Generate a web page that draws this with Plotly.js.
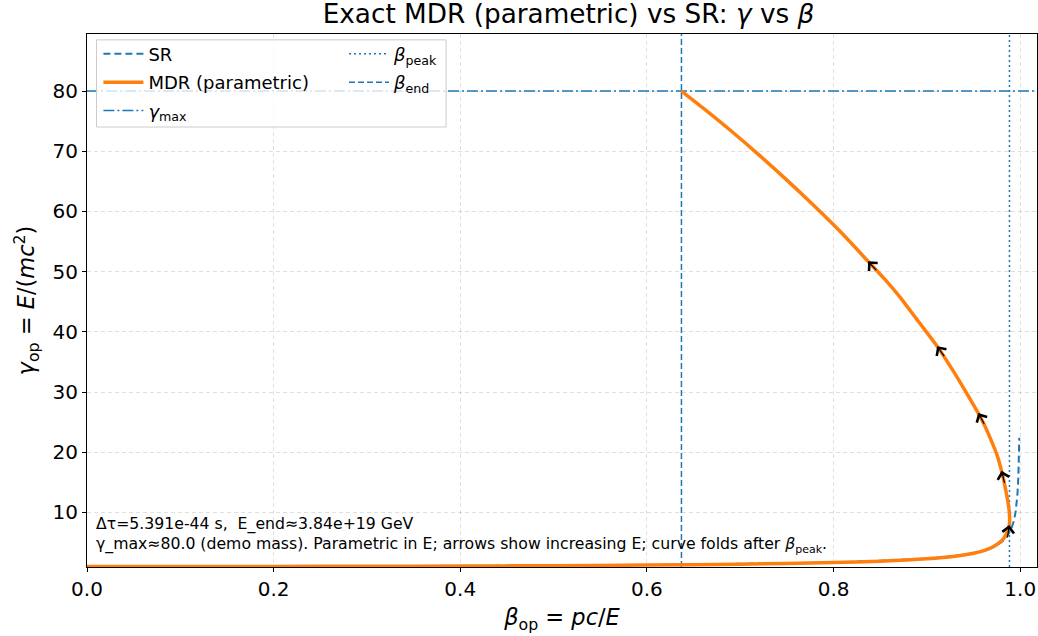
<!DOCTYPE html>
<html><head><meta charset="utf-8">
<script src="https://cdn.plot.ly/plotly-3.0.1.min.js"></script>
<style>html,body{margin:0;padding:0;background:#fff}</style>
</head><body><div id="chart" style="width:1038px;height:636px"></div>
<script>
// ---- data ----
const mdrBeta  = [0, 0.1, 0.2, 0.3, 0.4, 0.5, 0.6, 0.7, 0.8, 0.85, 0.9, 0.93, 0.95, 0.962, 0.971, 0.977, 0.982, 0.985, 0.987, 0.9883, 0.9887, 0.9882, 0.987, 0.984, 0.980, 0.975, 0.968, 0.962, 0.955, 0.943, 0.929, 0.911, 0.891, 0.872, 0.855, 0.837, 0.81, 0.78, 0.75, 0.72, 0.69, 0.66, 0.637];
const mdrGamma = [1, 1.005, 1.02, 1.05, 1.09, 1.15, 1.25, 1.4, 1.66, 1.89, 2.28, 2.7, 3.2, 3.7, 4.3, 4.9, 5.6, 6.4, 7.2, 7.9, 9.0, 10.2, 11.6, 14.1, 16.9, 19.6, 22.3, 24.4, 26.5, 29.7, 33.3, 37.6, 41.7, 45.6, 48.7, 51.7, 56.2, 60.8, 65.2, 69.4, 73.4, 77.2, 80];
const srBeta   = [0, 0.2, 0.4, 0.6, 0.7, 0.8, 0.9, 0.94, 0.96, 0.97, 0.98, 0.985, 0.99, 0.993, 0.995, 0.997, 0.998, 0.999];
const srGamma  = [1, 1.02, 1.09, 1.25, 1.4, 1.67, 2.29, 2.93, 3.57, 4.11, 5.03, 5.8, 7.09, 8.47, 10.0, 12.9, 15.8, 22.4];
const betaEnd = 0.637, betaPeak = 0.9885, gammaMax = 80;
const arrowIdx = [19, 24, 28, 31, 35];   // points on the MDR curve where the E-direction arrows sit
const xTickVals = [0, 0.2, 0.4, 0.6, 0.8, 1.0];
const xTickText = ["0.0", "0.2", "0.4", "0.6", "0.8", "1.0"];
const yTickVals = [10, 20, 30, 40, 50, 60, 70, 80];
const yTickText = ["10", "20", "30", "40", "50", "60", "70", "80"];
const titleText = "Exact MDR (parametric) vs SR: <i>γ</i> vs <i>β</i>";
const noteText = "Δτ=5.391e-44 s,&nbsp; E_end≈3.84e+19 GeV<br>γ_max≈80.0 (demo mass). Parametric in E; arrows show increasing E; curve folds after <i>β</i><sub>peak</sub>.";

// ---- layout constants ----
const W = 1038, H = 636;
const M = {l: 87, r: 1, t: 34, b: 69};
const xRange = [0, 1.018], yRange = [0.93, 89.47];
const pw = W - M.l - M.r, ph = H - M.t - M.b;
const pxX = pw / (xRange[1] - xRange[0]), pxY = ph / (yRange[1] - yRange[0]);
const C0 = '#1f77b4', C1 = '#ff7f0e';
const FONT = 'DejaVu Sans, sans-serif';

const traces = [
  {x: srBeta, y: srGamma, mode: 'lines', name: 'SR', line: {color: C0, width: 2, dash: '7px,4px'}, legend: 'legend', legendrank: 1, legendgroup: 'a'},
  {x: mdrBeta, y: mdrGamma, mode: 'lines', name: 'MDR (parametric)', line: {color: C1, width: 3.5, shape: 'spline', smoothing: 0.6}, legend: 'legend', legendrank: 2, legendgroup: 'b'},
  {x: xRange, y: [gammaMax, gammaMax], mode: 'lines', name: '<i>γ</i><sub>max</sub>', line: {color: C0, width: 1.5, dash: '11px,3px,2px,3px'}, legend: 'legend', legendrank: 3, legendgroup: 'c'},
  {x: [betaPeak, betaPeak], y: yRange, mode: 'lines', name: '<i>β</i><sub>peak</sub>', line: {color: C0, width: 1.5, dash: '2px,3px'}, legend: 'legend2', legendrank: 1, legendgroup: 'd'},
  {x: [betaEnd, betaEnd], y: yRange, mode: 'lines', name: '<i>β</i><sub>end</sub>', line: {color: C0, width: 1.5, dash: '6px,3px'}, legend: 'legend2', legendrank: 2, legendgroup: 'e'}
];
const drawOrder = [traces[2], traces[3], traces[4], traces[0], traces[1]];
drawOrder.forEach(t => { t.hoverinfo = 'skip'; });

// arrows along the MDR curve in the direction of increasing E
const annotations = arrowIdx.map(i => {
  const dx = (mdrBeta[i + 1] - mdrBeta[i - 1]) * pxX;
  const dy = -(mdrGamma[i + 1] - mdrGamma[i - 1]) * pxY;
  const n = Math.hypot(dx, dy), L = 14;
  return {x: mdrBeta[i], y: mdrGamma[i], xref: 'x', yref: 'y', text: '', showarrow: true,
          ax: -dx / n * L, ay: -dy / n * L, arrowhead: 4, arrowsize: 1.9, arrowwidth: 1.2,
          arrowcolor: '#000', standoff: 0};
});
annotations.push({xref: 'paper', yref: 'paper', x: 0.007, y: 0.017, xanchor: 'left', yanchor: 'bottom',
  align: 'left', showarrow: false, text: noteText, font: {family: FONT, size: 15.7, color: '#000'}});

const grid = {gridcolor: 'rgba(0,0,0,0.12)', griddash: '4px,3px', gridwidth: 1};
const legendBase = {xanchor: 'left', yanchor: 'top', bgcolor: 'rgba(0,0,0,0)', borderwidth: 0,
    font: {family: FONT, size: 18}, tracegroupgap: 2, itemwidth: 40};
const layout = {
  width: W, height: H, margin: M, paper_bgcolor: '#fff', plot_bgcolor: '#fff',
  font: {family: FONT, color: '#000', size: 18},
  title: {text: titleText, x: 0.5477, xanchor: 'center', y: 0.978, yanchor: 'middle', font: {family: FONT, size: 26.3, color: '#000'}},
  xaxis: Object.assign({range: xRange, tickvals: xTickVals, ticktext: xTickText, ticks: 'outside', ticklen: 4, tickcolor: '#000',
    showline: true, linecolor: '#000', linewidth: 1, mirror: true, zeroline: false,
    tickfont: {family: FONT, size: 20}, title: {text: '<i>β</i><sub>op</sub> = <i>pc</i>/<i>E</i>', font: {family: FONT, size: 22.5}, standoff: 9}}, grid),
  yaxis: Object.assign({range: yRange, tickvals: yTickVals, ticktext: yTickText, ticks: 'outside', ticklen: 4, tickcolor: '#000',
    showline: true, linecolor: '#000', linewidth: 1, mirror: true, zeroline: false,
    tickfont: {family: FONT, size: 20}, title: {text: '<i>γ</i><sub>op</sub> = <i>E</i>/(<i>mc</i><sup>2</sup>)', font: {family: FONT, size: 22.5}, standoff: 11}}, grid),
  showlegend: true,
  legend: Object.assign({x: 0.012, y: 0.997}, legendBase),
  legend2: Object.assign({x: 0.2705, y: 0.997}, legendBase),
  shapes: [{type: 'rect', xref: 'paper', yref: 'paper', x0: 0.01, x1: 0.378, y0: 0.8255, y1: 0.989,
    fillcolor: 'rgba(255,255,255,0.8)', line: {color: '#cccccc', width: 1}, layer: 'above'}],
  annotations: annotations
};
Plotly.newPlot('chart', drawOrder, layout, {displayModeBar: false, staticPlot: true});
</script></body></html>
